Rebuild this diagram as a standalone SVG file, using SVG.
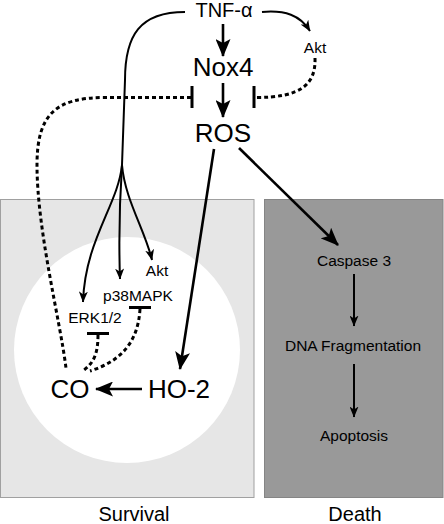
<svg xmlns="http://www.w3.org/2000/svg" width="444" height="524" viewBox="0 0 444 524">
<style>
text{font-family:"Liberation Sans",Arial,sans-serif;fill:#000;text-anchor:middle}
.big{font-size:26px}
.med{font-size:20px}
.sm{font-size:15.5px}
.ln{fill:none;stroke:#000;stroke-width:2}
.th{fill:none;stroke:#000;stroke-width:2.6}
.dot{fill:none;stroke:#000;stroke-width:3;stroke-dasharray:4 3}
.bar{stroke:#000;stroke-width:3}
</style>
<defs>
<marker id="ab" markerUnits="userSpaceOnUse" viewBox="0 0 18 15" markerWidth="18" markerHeight="15" refX="17" refY="7.5" orient="auto"><path d="M0,0 L18,7.5 L0,15 L4,7.5 z"/></marker>
<marker id="as" markerUnits="userSpaceOnUse" viewBox="0 0 11 9" markerWidth="11" markerHeight="9" refX="10.5" refY="4.5" orient="auto"><path d="M0,0 L11,4.5 L0,9 L3,4.5 z"/></marker>
</defs>
<g id="survival-box"><rect x="0.5" y="199.5" width="253.5" height="298" fill="#e6e6e6" stroke="#a0a0a0"/><circle cx="127" cy="350" r="113" fill="#fff"/></g>
<g id="death-box"><rect x="264.5" y="199.5" width="178.5" height="298" fill="#999" stroke="#858585"/></g>
<g id="connectors">
<path class="th" d="M223,24 V56" marker-end="url(#ab)"/>
<path class="th" d="M223,83 V117" marker-end="url(#ab)"/>
<path class="ln" d="M262,12 C285,10 300,15 310,31" marker-end="url(#as)"/>
<path class="dot" d="M315,58 C316,85 300,97.5 256,97.5"/>
<line class="bar" x1="254" y1="86" x2="254" y2="108"/>
<path class="dot" d="M191,97.5 H105 C55,97.5 37,115 37,165 C37,230 60,320 66,368"/>
<line class="bar" x1="192" y1="86" x2="192" y2="108"/>
<path class="ln" d="M185,12 C140,12 125,35 125,80 L122,165"/>
<path class="ln" d="M122,165 C118,205 85,240 83,302" marker-end="url(#as)"/>
<path class="ln" d="M122,165 C119,210 119,250 120,279" marker-end="url(#as)"/>
<path class="ln" d="M122,165 C125,200 145,230 152,260" marker-end="url(#as)"/>
<path class="th" d="M214,149 L180,369" marker-end="url(#ab)"/>
<path class="th" d="M239,148 L338,245" marker-end="url(#ab)"/>
<path class="th" d="M142,389 H96" marker-end="url(#ab)"/>
<line class="bar" x1="129" y1="307.5" x2="151" y2="307.5"/>
<line class="bar" x1="87" y1="333.5" x2="109" y2="333.5"/>
<path class="dot" d="M98,335 C98,355 93,363 84,370"/>
<path class="dot" d="M140,309 C138,345 118,362 90,371"/>
<path class="ln" d="M354,274 V326" marker-end="url(#as)"/>
<path class="ln" d="M354,364 V417" marker-end="url(#as)"/>
</g>
<g id="tnf"><text class="med" x="224" y="17">TNF-α</text></g>
<g id="akt-top"><text class="sm" x="315" y="53">Akt</text></g>
<g id="nox4"><text class="big" x="223" y="76">Nox4</text></g>
<g id="ros"><text class="big" x="223" y="142">ROS</text></g>
<g id="akt"><text class="sm" x="157" y="276">Akt</text></g>
<g id="p38"><text class="sm" x="138" y="301">p38MAPK</text></g>
<g id="erk"><text class="sm" x="95" y="323">ERK1/2</text></g>
<g id="co"><text class="big" x="70" y="398">CO</text></g>
<g id="ho2"><text class="big" x="179" y="398">HO-2</text></g>
<g id="caspase"><text class="sm" x="354" y="266">Caspase 3</text></g>
<g id="dna"><text class="sm" x="353" y="351">DNA Fragmentation</text></g>
<g id="apoptosis"><text class="sm" x="354" y="441">Apoptosis</text></g>
<g id="survival"><text class="med" x="134" y="521">Survival</text></g>
<g id="death"><text class="med" x="355" y="521">Death</text></g>
</svg>
